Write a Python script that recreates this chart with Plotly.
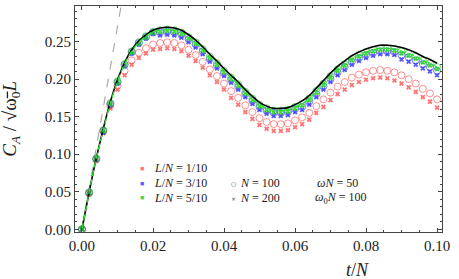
import plotly.graph_objects as go

t_over_N = [round(0.002 * i, 3) for i in range(51)]

exact = [0.000,0.049,0.094,0.134,0.170,0.199,0.222,0.239,0.251,0.259,0.265,0.268,0.269,0.268,0.265,0.259,0.252,0.243,0.233,0.224,0.214,0.205,0.196,0.186,0.177,0.169,0.164,0.161,0.161,0.162,0.166,0.171,0.178,0.188,0.198,0.208,0.217,0.224,0.231,0.236,0.240,0.243,0.245,0.245,0.244,0.242,0.239,0.235,0.230,0.226,0.221]

green_N100 = [0.000,0.049,0.094,0.132,0.168,0.197,0.220,0.237,0.249,0.257,0.263,0.265,0.266,0.265,0.262,0.256,0.249,0.240,0.230,0.221,0.211,0.202,0.193,0.183,0.174,0.166,0.161,0.158,0.158,0.159,0.163,0.167,0.174,0.184,0.194,0.204,0.213,0.220,0.227,0.232,0.236,0.239,0.241,0.241,0.240,0.237,0.234,0.230,0.225,0.221,0.216]
green_N200 = [0.000,0.049,0.094,0.131,0.167,0.196,0.219,0.236,0.248,0.256,0.262,0.263,0.264,0.263,0.260,0.254,0.247,0.238,0.228,0.219,0.209,0.200,0.191,0.181,0.172,0.164,0.159,0.156,0.156,0.157,0.161,0.165,0.172,0.182,0.192,0.202,0.211,0.218,0.225,0.230,0.234,0.237,0.239,0.239,0.238,0.234,0.231,0.227,0.222,0.218,0.213]
blue_N100 = [0.000,0.049,0.094,0.131,0.167,0.196,0.219,0.236,0.248,0.256,0.262,0.262,0.263,0.262,0.259,0.253,0.246,0.237,0.227,0.218,0.208,0.199,0.190,0.180,0.171,0.163,0.158,0.155,0.155,0.156,0.160,0.163,0.170,0.180,0.190,0.200,0.209,0.216,0.223,0.228,0.232,0.235,0.237,0.237,0.236,0.232,0.229,0.225,0.220,0.216,0.211]
blue_N200 = [0.000,0.048,0.093,0.129,0.165,0.194,0.217,0.234,0.246,0.254,0.260,0.258,0.259,0.258,0.255,0.249,0.242,0.233,0.223,0.214,0.204,0.195,0.186,0.176,0.167,0.159,0.154,0.151,0.151,0.152,0.156,0.159,0.166,0.176,0.186,0.196,0.205,0.212,0.219,0.224,0.228,0.231,0.233,0.233,0.232,0.226,0.223,0.219,0.214,0.210,0.205]
red_N100 = [0.000,0.048,0.093,0.131,0.165,0.191,0.211,0.225,0.235,0.241,0.246,0.248,0.249,0.248,0.245,0.239,0.232,0.223,0.213,0.204,0.194,0.184,0.175,0.165,0.156,0.148,0.143,0.140,0.140,0.141,0.145,0.149,0.155,0.164,0.173,0.182,0.190,0.196,0.202,0.206,0.209,0.211,0.212,0.211,0.209,0.205,0.200,0.194,0.187,0.181,0.173]
red_N200 = [0.000,0.047,0.091,0.128,0.161,0.186,0.205,0.219,0.228,0.234,0.239,0.240,0.241,0.240,0.237,0.231,0.224,0.215,0.205,0.196,0.186,0.175,0.166,0.156,0.147,0.139,0.134,0.131,0.131,0.132,0.136,0.140,0.146,0.155,0.163,0.172,0.180,0.186,0.192,0.196,0.199,0.201,0.202,0.201,0.198,0.194,0.189,0.183,0.176,0.170,0.162]

early_slope = 27.0
early_t = [0.0, 0.011]

x_ticks = [0.00, 0.02, 0.04, 0.06, 0.08, 0.10]
y_ticks = [0.00, 0.05, 0.10, 0.15, 0.20, 0.25]

RED = "rgba(255,70,70,0.75)"
BLUE = "rgba(40,40,255,0.75)"
GREEN = "rgba(30,200,30,0.8)"
SERIF = "Liberation Serif"

fig = go.Figure()

fig.add_trace(go.Scatter(x=early_t, y=[early_slope * v for v in early_t], mode="lines",
                         line=dict(color="#aaaaaa", width=1.2, dash="dash"), showlegend=False))

series = [
    (red_N100, RED, "circle-open"), (red_N200, RED, "x"),
    (blue_N100, BLUE, "circle-open"), (blue_N200, BLUE, "x"),
    (green_N100, GREEN, "circle-open"), (green_N200, GREEN, "x"),
]
for vals, col, sym in series:
    if sym == "circle-open":
        mk = dict(symbol=sym, size=7, color=col, line=dict(width=0.8, color=col))
    else:
        mk = dict(symbol=sym, size=4.5, color=col, line=dict(width=0))
    fig.add_trace(go.Scatter(x=t_over_N, y=vals, mode="markers", marker=mk, showlegend=False))

fig.add_trace(go.Scatter(x=t_over_N, y=exact, mode="lines", line=dict(color="black", width=1.6, shape="spline"),
                         showlegend=False))
fig.add_trace(go.Scatter(x=t_over_N, y=green_N100, mode="lines",
                         line=dict(color="rgb(40,230,40)", width=1.3, dash="6px,3px", shape="spline"),
                         showlegend=False))

axis_common = dict(showline=True, linecolor="#444", linewidth=1, mirror="allticks", ticks="inside",
                   ticklen=4, tickcolor="#444", showgrid=False, zeroline=False,
                   tickfont=dict(family=SERIF, size=15, color="#222"))

fig.update_xaxes(range=[-0.00197, 0.1014], tickvals=x_ticks, ticktext=[f"{v:.2f}" for v in x_ticks],
                 minor=dict(dtick=0.005, ticks="inside", ticklen=2, tickcolor="#444"), **axis_common)
fig.update_yaxes(range=[-0.0036, 0.2973], tickvals=y_ticks, ticktext=[f"{v:.2f}" for v in y_ticks],
                 minor=dict(dtick=0.01, ticks="inside", ticklen=2, tickcolor="#444"), **axis_common)

ann = []
# axis labels
ann.append(dict(xref="paper", yref="paper", x=(357 - 75) / 367, y=(232 - 270) / 226, xanchor="center",
                yanchor="middle", text="<i>t</i>/<i>N</i>", showarrow=False,
                font=dict(family=SERIF, size=18, color="#222")))
ann.append(dict(xref="paper", yref="paper", x=-0.175, y=0.5, xanchor="center", yanchor="middle", textangle=-90,
                text="<i>C</i><sub><i>A</i></sub> / √<span style='text-decoration:overline'>ω<sub>0</sub><i>L</i></span>",
                showarrow=False, font=dict(family=SERIF, size=19, color="#222")))

# legend group 1
leg1 = [("1/10", RED), ("3/10", BLUE), ("5/10", GREEN)]
ys = [168.3, 183.3, 197.7]
for (lab, col), yy in zip(leg1, ys):
    ann.append(dict(xref="paper", yref="paper", x=(141.7 - 75) / 367, y=(232 - yy) / 226,
                    xanchor="center", yanchor="middle", text="■", showarrow=False,
                    font=dict(size=7, color=col)))
    ann.append(dict(xref="paper", yref="paper", x=(152 - 75) / 367, y=(232 - yy) / 226,
                    xanchor="left", yanchor="middle",
                    text="<i>L</i>/<i>N</i> = " + lab, showarrow=False,
                    font=dict(family=SERIF, size=12, color="#222")))

leg2 = [("○", "<i>N</i> = 100", 183.3), ("×", "<i>N</i> = 200", 198.3)]
for sym, lab, yy in leg2:
    ann.append(dict(xref="paper", yref="paper", x=(233.5 - 75) / 367, y=(232 - yy) / 226,
                    xanchor="center", yanchor="middle", text=sym, showarrow=False,
                    font=dict(family="DejaVu Sans", size=6, color="#444")))
    ann.append(dict(xref="paper", yref="paper", x=(238 - 75) / 367, y=(232 - yy) / 226,
                    xanchor="left", yanchor="middle", text=lab, showarrow=False,
                    font=dict(family=SERIF, size=12, color="#222")))

ann.append(dict(xref="paper", yref="paper", x=(315 - 75) / 367, y=(232 - 183.3) / 226,
                xanchor="left", yanchor="middle", text="<i>ωN</i> = 50", showarrow=False,
                font=dict(family=SERIF, size=12, color="#222")))
ann.append(dict(xref="paper", yref="paper", x=(313 - 75) / 367, y=(232 - 198.3) / 226,
                xanchor="left", yanchor="middle", text="<i>ω</i><sub>0</sub><i>N</i> = 100", showarrow=False,
                font=dict(family=SERIF, size=12, color="#222")))

fig.update_layout(width=459, height=279, margin=dict(l=75, r=17, t=6, b=47),
                  plot_bgcolor="white", paper_bgcolor="white", annotations=ann, showlegend=False)

fig.write_html("out.html", config={"displayModeBar": False},
               post_script="document.body.style.margin='0';")
